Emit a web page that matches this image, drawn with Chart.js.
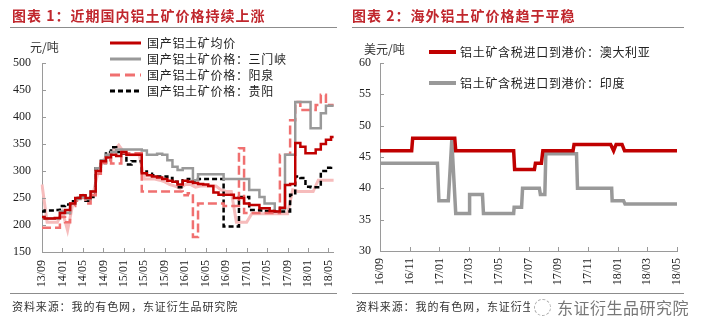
<!DOCTYPE html>
<html><head><meta charset="utf-8">
<script src="https://cdn.jsdelivr.net/npm/chart.js@4.4.1/dist/chart.umd.min.js"></script>
<style>
html,body{margin:0;padding:0;background:#fff;width:712px;height:328px;overflow:hidden;position:relative;}
.abs{position:absolute;white-space:nowrap;}
.cjk{font-family:"Noto Sans CJK SC","Noto Sans",sans-serif;}
.title{font-size:14px;font-weight:bold;color:#c0272d;letter-spacing:1px;line-height:16px;}
.rule{position:absolute;height:1px;background:#8c8c8c;}
.unit{font-size:12px;color:#333;line-height:14px;}
.leg{font-size:12px;color:#222;letter-spacing:0.7px;line-height:14px;}
.src{font-size:11px;color:#333;letter-spacing:0.9px;line-height:13px;}
canvas{position:absolute;top:0;}
svg{position:absolute;overflow:visible;}
</style></head>
<body>
<canvas id="c1" width="356" height="328" style="left:0px"></canvas>
<canvas id="c2" width="356" height="328" style="left:356px"></canvas>

<div class="abs cjk title" style="left:12px;top:7px;">图表 1：近期国内铝土矿价格持续上涨</div>
<div class="rule" style="left:10px;top:27px;width:327px;"></div>
<div class="abs cjk title" style="left:352px;top:7px;">图表 2：海外铝土矿价格趋于平稳</div>
<div class="rule" style="left:352px;top:27px;width:332px;"></div>

<div class="abs cjk unit" style="left:30px;top:40px;">元/吨</div>
<div class="abs cjk unit" style="left:364px;top:42px;">美元/吨</div>

<svg style="left:0;top:0;" width="1" height="1">
  <line x1="110" y1="43" x2="141" y2="43" stroke="#c00000" stroke-width="3"/>
  <line x1="110" y1="59" x2="141" y2="59" stroke="#999999" stroke-width="3"/>
  <line x1="110" y1="75" x2="141" y2="75" stroke="#f07070" stroke-width="3" stroke-dasharray="10,5"/>
  <line x1="110" y1="91" x2="141" y2="91" stroke="#000000" stroke-width="3" stroke-dasharray="5,3"/>
  <line x1="429" y1="52" x2="456" y2="52" stroke="#c00000" stroke-width="4"/>
  <line x1="429" y1="83" x2="456" y2="83" stroke="#999999" stroke-width="4"/>
</svg>
<div class="abs cjk leg" style="left:147px;top:36px;">国产铝土矿均价</div>
<div class="abs cjk leg" style="left:147px;top:52px;">国产铝土矿价格：三门峡</div>
<div class="abs cjk leg" style="left:147px;top:68px;">国产铝土矿价格：阳泉</div>
<div class="abs cjk leg" style="left:147px;top:84px;">国产铝土矿价格：贵阳</div>
<div class="abs cjk leg" style="left:460px;top:45px;">铝土矿含税进口到港价：澳大利亚</div>
<div class="abs cjk leg" style="left:460px;top:76px;">铝土矿含税进口到港价：印度</div>

<div class="rule" style="left:10px;top:293px;width:327px;"></div>
<div class="rule" style="left:352px;top:293px;width:332px;"></div>
<div class="abs cjk src" style="left:12px;top:300px;">资料来源：我的有色网，东证衍生品研究院</div>
<div class="abs cjk src" style="left:356px;top:300px;">资料来源：我的有色网，东证衍生品研究院</div>
<div class="abs" style="left:530px;top:296px;width:170px;height:24px;background:#fff;"></div>
<div class="abs" style="left:534px;top:299px;width:15px;height:15px;border:1px dashed #aaa;border-radius:50%;"></div>
<div class="abs cjk" style="left:557px;top:297px;font-size:16px;line-height:20px;color:#777;letter-spacing:0.5px;">东证衍生品研究院</div>

<script>
// ---------- Chart 1 data (monthly, 13/09 .. 18/06) ----------
const months1 = ['13/09','13/10','13/11','13/12',
 '14/01','14/02','14/03','14/04','14/05','14/06','14/07','14/08','14/09','14/10','14/11','14/12',
 '15/01','15/02','15/03','15/04','15/05','15/06','15/07','15/08','15/09','15/10','15/11','15/12',
 '16/01','16/02','16/03','16/04','16/05','16/06','16/07','16/08','16/09','16/10','16/11','16/12',
 '17/01','17/02','17/03','17/04','17/05','17/06','17/07','17/08','17/09','17/10','17/11','17/12',
 '18/01','18/02','18/03','18/04','18/05','18/06'];
const tickLabels1 = ['13/09','14/01','14/05','14/09','15/01','15/05','15/09','16/01','16/05','16/09','17/01','17/05','17/09','18/01','18/05'];

const avgPrice = [215,212,212,213,222,228,240,250,255,250,
 262,300,318,325,330,328,335,330,330,330,
 296,292,290,288,285,282,280,275,282,280,
 278,276,275,272,260,256,256,256,250,250,
 240,237,237,231,231,226,225,232,274,276,
 352,345,333,333,340,350,358,363];
const sanmenxia = [215,212,212,212,225,222,240,248,252,248,
 262,305,320,330,335,340,340,340,340,340,
 338,330,330,332,330,320,308,302,305,305,
 283,294,294,294,294,294,285,285,285,285,
 285,265,265,252,240,240,225,230,330,330,
 428,428,428,379,379,407,421,421];
const yangquan = [195,195,195,195,215,205,235,245,250,240,
 255,295,315,320,314,314,333,333,333,333,
 262,262,262,262,262,262,262,262,255,259,
 178,240,240,240,240,240,235,235,235,342,
 222,222,222,222,222,222,222,330,330,394,
 428,413,413,413,422,441,422,422];
const guiyang = [225,227,227,228,235,238,244,250,254,245,
 252,305,315,335,344,335,332,312,318,318,
 299,295,292,290,290,287,280,270,283,285,
 280,285,285,285,285,285,197,197,197,252,
 252,228,228,227,226,226,225,225,225,256,
 290,287,271,270,270,300,306,308];
const otherPink = [275,205,205,205,225,190,238,248,255,245,
 258,300,320,330,338,348,335,330,330,330,
 285,285,285,283,280,275,272,268,275,275,
 270,272,272,272,272,265,262,262,205,205,
 205,221,221,221,221,221,221,221,221,265,
 262,262,262,262,283,283,283,283];

// ---------- Chart 2 data (change points) ----------
const tickLabels2 = ['16/09','16/11','17/01','17/03','17/05','17/07','17/09','17/11','18/01','18/03','18/05'];
const ausDates = ['2016-09-01','2016-11-05','2016-11-07','2017-02-02','2017-02-04','2017-06-01','2017-06-03',
 '2017-07-13','2017-07-15','2017-07-27','2017-07-30','2017-10-01','2017-10-03','2017-12-17','2017-12-23',
 '2017-12-28','2018-01-10','2018-01-15','2018-05-01'];
const ausValues = [46,46,48,48,46,46,43,43,44,44,46,46,47,47,46,47,47,46,46];
const indDates = ['2016-09-01','2016-12-27','2016-12-30','2017-01-19','2017-01-26','2017-02-04','2017-03-01',
 '2017-03-02','2017-03-28','2017-03-30','2017-06-01','2017-06-02','2017-06-17','2017-06-19','2017-07-23',
 '2017-07-25','2017-08-04','2017-08-06','2017-10-08','2017-10-10','2017-12-19','2017-12-20','2018-01-13',
 '2018-01-16','2018-05-01'];
const indValues = [44,44,38,38,47.7,36,36,39,39,36,36,37,37,40,40,39,39,45.5,45.5,40,40,38,38,37.5,37.5];

function monthsSince(d){ const [y,m,dd]=d.split('-').map(Number); return (y-2016)*12+(m-9)+(dd-1)/30; }
const ausPts = ausDates.map((d,i)=>({x:monthsSince(d), y:ausValues[i]}));
const indPts = indDates.map((d,i)=>({x:monthsSince(d), y:indValues[i]}));

const tickFont = {family:'"Liberation Serif","Times New Roman",serif', size:12};
const axisColor = '#9a9a9a';

function innerTicks(xPixels){
  return {
    id:'innerTicks',
    afterDraw(chart){
      const ctx=chart.ctx, a=chart.chartArea, ys=chart.scales.y;
      ctx.save(); ctx.strokeStyle=axisColor; ctx.lineWidth=1; ctx.beginPath();
      xPixels(chart).forEach(x=>{ const px=Math.round(x)+0.5; ctx.moveTo(px,a.bottom); ctx.lineTo(px,a.bottom-4); });
      ys.ticks.forEach(t=>{ const py=Math.round(ys.getPixelForValue(t.value))+0.5; ctx.moveTo(a.left,py); ctx.lineTo(a.left+4,py); });
      ctx.stroke(); ctx.restore();
    }
  };
}

Chart.defaults.animation = false;

new Chart(document.getElementById('c1'), {
  type:'line',
  data:{
    labels: months1,
    datasets:[
      {label:'国产铝土矿均价', data:avgPrice, borderColor:'#c00000', borderWidth:2.5, stepped:'middle'},
      {label:'国产铝土矿价格：三门峡', data:sanmenxia, borderColor:'#999999', borderWidth:2.5, stepped:'middle'},
      {label:'国产铝土矿价格：阳泉', data:yangquan, borderColor:'#f07070', borderWidth:2.5, borderDash:[9,4], stepped:'middle'},
      {label:'国产铝土矿价格：贵阳', data:guiyang, borderColor:'#000000', borderWidth:2.5, borderDash:[5,3], stepped:'middle'},
      {label:'', data:otherPink, borderColor:'#f6bcbc', borderWidth:3}
    ]
  },
  options:{
    responsive:false, devicePixelRatio:1,
    layout:{padding:{left:0, top:63, right:21, bottom:36}},
    elements:{point:{radius:0}, line:{tension:0, fill:false}},
    plugins:{legend:{display:false}, tooltip:{enabled:false}},
    scales:{
      x:{
        grid:{display:false, drawTicks:false}, border:{display:true, color:axisColor},
        ticks:{autoSkip:false, minRotation:90, maxRotation:90, padding:8, font:tickFont, color:'#222',
          callback:(v,i)=> tickLabels1.includes(months1[i]) ? months1[i] : ''},
        afterFit:(s)=>{ s.height = 40; }
      },
      y:{
        min:150, max:500,
        grid:{display:false, drawTicks:false}, border:{display:true, color:axisColor},
        ticks:{stepSize:50, padding:11, font:tickFont, color:'#222'},
        afterFit:(s)=>{ s.width = 42; }
      }
    }
  },
  plugins:[innerTicks(ch=>tickLabels1.map(l=>ch.scales.x.getPixelForValue(months1.indexOf(l))))]
});

new Chart(document.getElementById('c2'), {
  type:'line',
  data:{
    datasets:[
      {label:'铝土矿含税进口到港价：澳大利亚', data:ausPts, borderColor:'#c00000', borderWidth:3.5},
      {label:'铝土矿含税进口到港价：印度', data:indPts, borderColor:'#999999', borderWidth:3.5}
    ]
  },
  options:{
    responsive:false, devicePixelRatio:1,
    layout:{padding:{left:0, top:63, right:35, bottom:37}},
    elements:{point:{radius:0}, line:{tension:0, fill:false, borderJoinStyle:'miter'}},
    plugins:{legend:{display:false}, tooltip:{enabled:false}},
    scales:{
      x:{
        type:'linear', min:0, max:20,
        grid:{display:false, drawTicks:false}, border:{display:true, color:axisColor},
        ticks:{stepSize:2, autoSkip:false, minRotation:90, maxRotation:90, padding:7, font:tickFont, color:'#222',
          callback:(v)=> tickLabels2[Math.round(v/2)]},
        afterFit:(s)=>{ s.height = 40; }
      },
      y:{
        min:30, max:60,
        grid:{display:false, drawTicks:false}, border:{display:true, color:axisColor},
        ticks:{stepSize:5, padding:9, font:tickFont, color:'#222'},
        afterFit:(s)=>{ s.width = 24; }
      }
    }
  },
  plugins:[innerTicks(ch=>ch.scales.x.ticks.map(t=>ch.scales.x.getPixelForValue(t.value)))]
});
</script>
</body></html>
